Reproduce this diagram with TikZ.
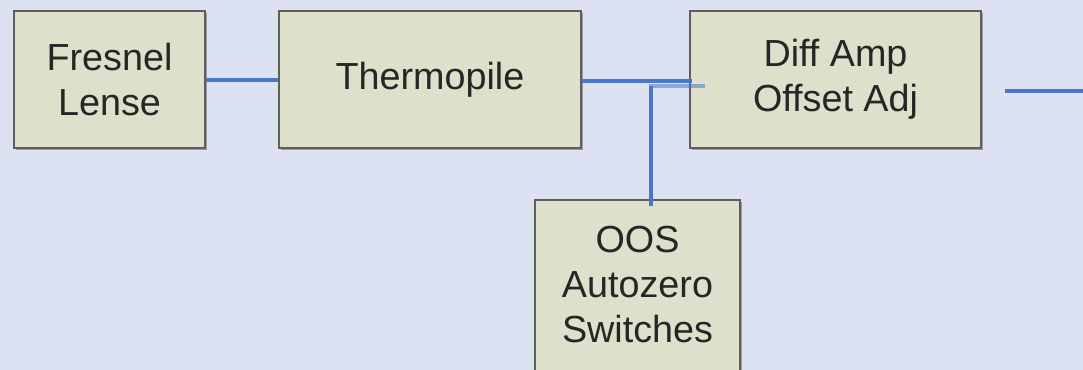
\documentclass[tikz,border=0pt]{standalone}
\usepackage{fontspec}
\setmainfont{Liberation Sans}
\usetikzlibrary{shadows}
\definecolor{bg}{HTML}{DCE2F1}
\definecolor{boxfill}{HTML}{DDE0CB}
\definecolor{boxline}{HTML}{5E5E5E}
\definecolor{shade}{HTML}{9A9A9A}
\definecolor{wire}{HTML}{4A78C8}
\begin{document}
\begin{tikzpicture}[x=0.75pt,y=-0.75pt,
  blockbox/.style={draw=boxline,line width=1.5pt,fill=boxfill,inner sep=0pt,
    align=center,font=\fontsize{28.3}{33.75}\selectfont,text=black!85,
    drop shadow={shadow xshift=1.5pt,shadow yshift=-1.5pt,fill=shade,opacity=1}},
  wireline/.style={draw=wire,line width=2.6pt}]
\useasboundingbox (0,0) rectangle (1083,370);
\fill[bg] (0,0) rectangle (1083,370);
\clip (0,0) rectangle (1083,370);
\node[blockbox,minimum width=143pt,minimum height=103pt] (fresnel) at (109.5,79.5) {Fresnel\\Lense};
\node[blockbox,minimum width=226.5pt,minimum height=103pt] (thermo) at (430,79.5) {Thermopile};
\node[blockbox,minimum width=218pt,minimum height=103pt] (diffamp) at (835.5,79.5) {Diff Amp\\Offset Adj};
\node[blockbox,minimum width=153.75pt,minimum height=150pt] (oos) at (637.5,300) {};
\node[align=center,font=\fontsize{28.3}{33.75}\selectfont,text=black!85,inner sep=0pt] (oostext) at (637.5,285) {OOS\\Autozero\\Switches};
\coordinate (tjoin) at (692,81);
\coordinate (oosup) at (651,86);
\coordinate (oosend) at (705,86);
\coordinate (outstart) at (1005,91);
\coordinate (outend) at (1083,91);
\draw[wireline] (fresnel.east |- 0,80) -- (thermo.west |- 0,80);
\draw[wireline] (thermo.east |- tjoin) -- (tjoin);
\draw[wireline,opacity=0.55] (oos.north -| oosup) ++(0,7) -- (oosup) -- (oosend);
\draw[wireline] (oos.north -| oosup) ++(0,7) -- (oosup);
\draw[wireline] (outstart) -- (outend);
\end{tikzpicture}
\end{document}
